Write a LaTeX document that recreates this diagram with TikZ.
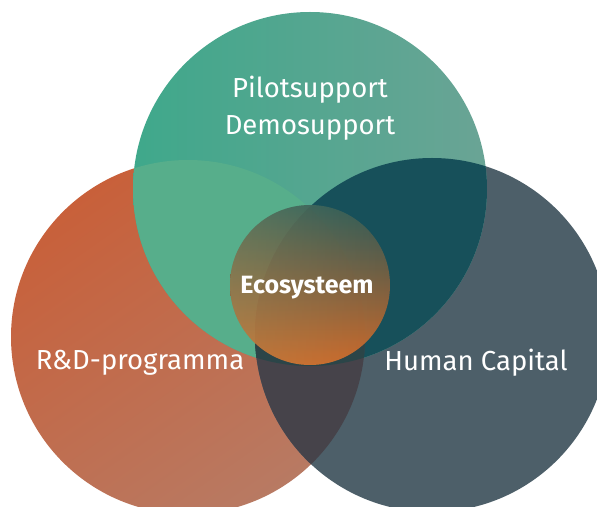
\documentclass[tikz,border=0pt]{standalone}
\usepackage{fontspec}
\setmainfont{Fira Sans}
\usetikzlibrary{fadings}

\definecolor{grnL}{HTML}{3FA88B}
\definecolor{grnR}{HTML}{6AA495}
\definecolor{orgT}{HTML}{C8603A}
\definecolor{orgB}{HTML}{B87A63}
\definecolor{slate}{HTML}{4D5F69}
\definecolor{goOv}{HTML}{57AE8B}
\definecolor{gsOv}{HTML}{17505A}
\definecolor{osOv}{HTML}{46434A}
\definecolor{allOv}{HTML}{2B4548}
\definecolor{ecoT}{HTML}{2C5A58}
\definecolor{ecoM}{HTML}{A2643A}
\definecolor{ecoB}{HTML}{DC6A26}
\definecolor{ecoR}{HTML}{A8A468}

\tikzset{
  lbl/.style={text=white, font=\fontsize{27.5}{37}\selectfont, inner sep=0pt, align=center},
  ecolbl/.style={text=white, font=\fontsize{25}{28}\selectfont\bfseries, inner sep=0pt}
}

\begin{document}
\begin{tikzpicture}[x=1pt,y=1pt]
    \useasboundingbox (0,0) rectangle (597,506);
    \begin{scope}\clip (0,0) rectangle (597,506);
    \def\R{177pt}
    \coordinate (G) at (310,317);
    \coordinate (O) at (188,169);
    \coordinate (S) at (432,171);
    \coordinate (E) at (310,221);
    % the three big circles
    \shade[top color=orgT, bottom color=orgB, shading angle=35] (O) circle (\R);
    \fill[slate] (S) circle (\R);
    \shade[left color=grnL, right color=grnR] (G) circle (\R);
    % overlaps
    \begin{scope}\clip (G) circle (\R);
      \fill[goOv] (O) circle (\R);
      \fill[gsOv] (S) circle (\R);
    \end{scope}
    \begin{scope}\clip (O) circle (\R);
      \fill[osOv] (S) circle (\R);
      \clip (S) circle (\R);
      \fill[allOv] (G) circle (\R);
    \end{scope}
    % centre
    \shade[top color=ecoT, middle color=ecoM, bottom color=ecoB, opacity=0.92] (E) circle (80pt);
    \fill[ecoR, opacity=0.3, path fading=east] (E) circle (80pt);
    \end{scope}
    \node[lbl] (top) at (310,398) {Pilotsupport\\Demosupport};
    \node[lbl] (rd) at (140,143) {R\&D-programma};
    \node[lbl] (hc) at (476,143) {Human Capital};
    \node[ecolbl] (eco) at (307,218) {Ecosysteem};
\end{tikzpicture}
\end{document}
